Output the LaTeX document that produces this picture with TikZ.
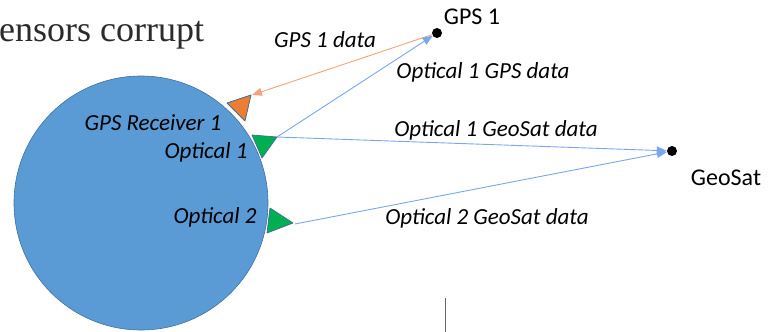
\documentclass[tikz,border=0pt]{standalone}
\usepackage{fontspec}
\setmainfont{Carlito}
\newfontfamily\slidefont{Liberation Serif}
\usetikzlibrary{positioning, calc, arrows.meta}

\definecolor{recvblue}{HTML}{5B9BD5}
\definecolor{recvedge}{HTML}{41719C}
\definecolor{sensorange}{HTML}{ED7D31}
\definecolor{sensgreen}{HTML}{00B050}
\definecolor{linkblue}{HTML}{7AA6EC}
\definecolor{linkorange}{HTML}{F4A27C}
\definecolor{slidetext}{HTML}{2B2B2B}

\tikzset{
  lbl/.style={font=\fontsize{23}{26}\selectfont\itshape, inner sep=0pt},
  sat/.style={circle, fill=black, inner sep=0pt, minimum size=10pt},
  satname/.style={font=\fontsize{24}{27}\selectfont, inner sep=0pt},
  sensor/.style={draw=recvedge, line width=0.8pt, line join=round},
  link/.style={line width=0.9pt, -{Triangle[length=10pt, width=8pt]}}
}

\begin{document}
\begin{tikzpicture}[x=1pt, y=-1pt]
                    \useasboundingbox (0, 0) rectangle (769, 332);
                    % receiver
                    \node[circle, draw=recvedge, fill=recvblue, line width=0.6pt,
                          minimum size=254pt, inner sep=0pt] (rx) at (141, 203) {};
                    \node[lbl] (rxname) at (153, 123) {GPS Receiver 1};
                    \node[lbl] (op1name) at (206, 152) {Optical 1};
                    \node[lbl] (op2name) at (215, 217) {Optical 2};
                    % sensors
                    \filldraw[sensor, fill=sensorange] (227, 103) -- (251, 95) -- (245, 121) -- cycle;
                    \filldraw[sensor, fill=sensgreen] (252, 135) -- (277, 137) -- (262, 158) -- cycle;
                    \filldraw[sensor, fill=sensgreen] (270, 208) -- (293, 223) -- (267, 233) -- cycle;
                    \coordinate (gpsin) at (252, 95);
                    \coordinate (op1out) at (277, 137);
                    \coordinate (op2out) at (295, 224);
                    % satellites
                    \node[sat] (gps) at (437, 33) {};
                    \node[satname] (gpsname) at (472, 17) {GPS 1};
                    \node[sat] (geo) at (672, 151) {};
                    \node[satname] (geoname) at (726, 178) {GeoSat};
                    % links
                    \draw[link, linkorange] (gps) -- (gpsin);
                    \draw[link, linkblue] (op1out) -- (gps);
                    \draw[link, linkblue] (op1out) -- (geo);
                    \draw[link, linkblue] (op2out) -- (geo);
                    \node[lbl] (l1) at (325, 40) {GPS 1 data};
                    \node[lbl] (l2) at (483, 72) {Optical 1 GPS data};
                    \node[lbl] (l3) at (496, 130) {Optical 1 GeoSat data};
                    \node[lbl] (l4) at (487, 218) {Optical 2 GeoSat data};
                    % slide leftovers
                    \node[font=\slidefont\fontsize{36}{40}\selectfont, text=slidetext,
                          anchor=base west, inner sep=0pt] (title) at (-1, 41) {ensors corrupt};
                    \draw[black!60, line width=1pt] (445, 298) -- (445, 332);
                \end{tikzpicture}
\end{document}
